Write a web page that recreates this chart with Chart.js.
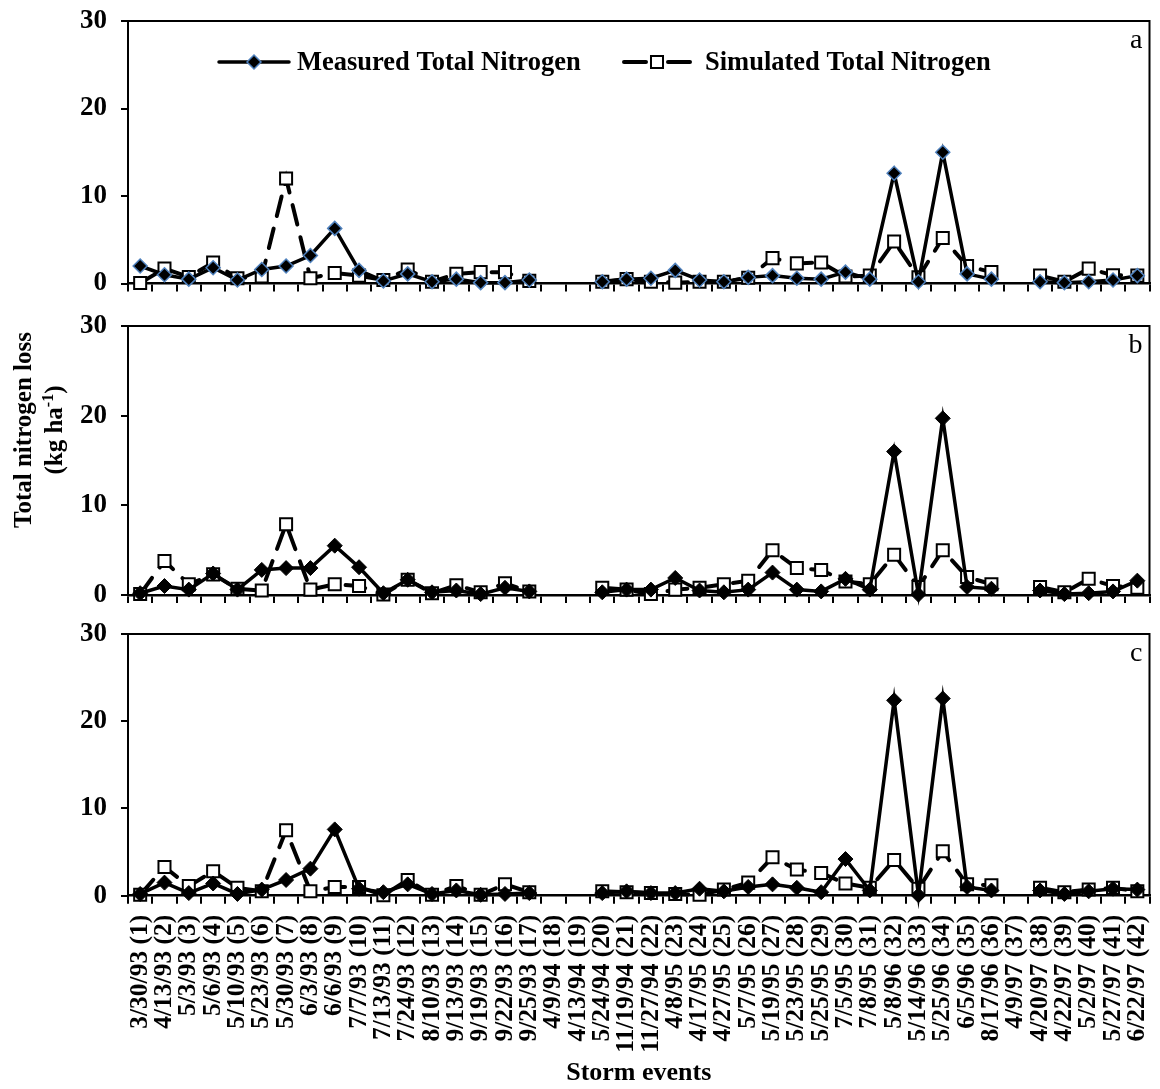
<!DOCTYPE html>
<html>
<head>
<meta charset="utf-8">
<script src="https://cdn.jsdelivr.net/npm/chart.js@4.4.1/dist/chart.umd.min.js"></script>
<style>
  body { margin: 0; background: #fff; }
  #figure { position: relative; width: 1160px; height: 1089px; overflow: hidden; }
  #figure canvas { position: absolute; left: 0; }
  #yTitle {
    position: absolute; left: -112px; top: 399px; width: 300px; height: 62px;
    font: bold 25px "Liberation Serif", "Times New Roman", serif; line-height: 31px;
    text-align: center; color: #000; transform: rotate(-90deg); transform-origin: 50% 50%;
  }
  #yTitle sup { font-size: 16px; line-height: 0; vertical-align: 9px; }
</style>
</head>
<body>
<div id="figure">
  <canvas id="panelA" width="1160" height="300" style="top:0"></canvas>
  <canvas id="panelB" width="1160" height="310" style="top:300px"></canvas>
  <canvas id="panelC" width="1160" height="479" style="top:610px"></canvas>
  <div id="yTitle">Total nitrogen loss<br>(kg ha<sup>-1</sup>)</div>
</div>
<script>
// storm event dates, numbered 1..42 on the axis
const eventDates = [
  '3/30/93', '4/13/93', '5/3/93', '5/6/93', '5/10/93', '5/23/93', '5/30/93', '6/3/93', '6/6/93',
  '7/7/93', '7/13/93', '7/24/93', '8/10/93', '9/13/93', '9/19/93', '9/22/93', '9/25/93',
  '4/9/94', '4/13/94', '5/24/94', '11/19/94', '11/27/94', '4/8/95', '4/17/95', '4/27/95',
  '5/7/95', '5/19/95', '5/23/95', '5/25/95', '7/5/95', '7/8/95', '5/8/96', '5/14/96',
  '5/25/96', '6/5/96', '8/17/96', '4/9/97', '4/20/97', '4/22/97', '5/2/97', '5/27/97', '6/22/97'
];

// total N loss, kg/ha (null = no runoff sample)
const measuredA = [2.0, 1.0, 0.5, 1.8, 0.4, 1.6, 2.0, 3.2, 6.3, 1.5, 0.3, 1.1, 0.2, 0.5, 0.1, 0.1, 0.4,
  null, null, 0.2, 0.5, 0.6, 1.5, 0.4, 0.2, 0.7, 0.9, 0.6, 0.5, 1.3, 0.5, 12.6, 0.2, 15.0, 1.1, 0.5,
  null, 0.2, 0.1, 0.2, 0.4, 0.9];
const simulatedA = [0.05, 1.7, 0.75, 2.4, 0.6, 0.8, 12.0, 0.6, 1.2, 0.9, 0.4, 1.6, 0.2, 1.1, 1.3, 1.3, 0.3,
  null, null, 0.2, 0.5, 0.2, 0.1, 0.2, 0.2, 0.65, 2.9, 2.3, 2.4, 0.8, 0.9, 4.8, 0.7, 5.2, 2.0, 1.3,
  null, 0.9, 0.2, 1.7, 0.95, 0.9];

const measuredB = [0.2, 1.0, 0.6, 2.4, 0.6, 2.8, 3.0, 3.0, 5.5, 3.1, 0.2, 1.7, 0.3, 0.5, 0.1, 0.8, 0.4,
  null, null, 0.3, 0.6, 0.6, 1.9, 0.5, 0.3, 0.6, 2.5, 0.6, 0.4, 1.8, 0.6, 16.0, 0.05, 19.7, 0.9, 0.7,
  null, 0.5, 0.1, 0.2, 0.4, 1.6];
const simulatedB = [0.1, 3.8, 1.2, 2.3, 0.7, 0.5, 7.9, 0.6, 1.2, 1.0, 0.05, 1.7, 0.2, 1.1, 0.3, 1.3, 0.4,
  null, null, 0.8, 0.6, 0.1, 0.6, 0.8, 1.2, 1.6, 5.0, 3.0, 2.8, 1.5, 1.2, 4.5, 0.9, 5.0, 2.0, 1.2,
  null, 0.9, 0.3, 1.8, 1.0, 0.8];

const measuredC = [0.2, 1.5, 0.3, 1.4, 0.2, 0.7, 1.8, 3.1, 7.6, 0.8, 0.4, 1.3, 0.2, 0.6, 0.1, 0.2, 0.3,
  null, null, 0.3, 0.5, 0.3, 0.3, 0.8, 0.5, 1.0, 1.3, 0.9, 0.4, 4.2, 0.6, 22.4, 0.05, 22.6, 1.0, 0.6,
  null, 0.6, 0.2, 0.5, 0.8, 0.7];
const simulatedC = [0.1, 3.3, 1.1, 2.8, 0.9, 0.5, 7.5, 0.5, 1.0, 1.0, 0.05, 1.8, 0.1, 1.1, 0.1, 1.3, 0.4,
  null, null, 0.5, 0.4, 0.3, 0.2, 0.1, 0.7, 1.5, 4.4, 3.0, 2.6, 1.4, 0.9, 4.1, 0.8, 5.1, 1.3, 1.2,
  null, 0.9, 0.4, 0.7, 0.9, 0.5];

const yTickValues = [0, 10, 20, 30];
const seriesNames = ['Measured Total Nitrogen', 'Simulated Total Nitrogen'];

const eventLabels = eventDates.map((d, i) => d + ' (' + (i + 1) + ')');

const SERIF = '"Liberation Serif", "Times New Roman", serif';
Chart.defaults.font.family = SERIF;
Chart.defaults.color = '#000';

// closes the box on top and right, and writes the panel letter
const panelFrame = {
  id: 'panelFrame',
  afterDraw(chart, args, opts) {
    const { ctx, chartArea: a } = chart;
    ctx.save();
    ctx.strokeStyle = '#000';
    ctx.lineWidth = 2;
    ctx.beginPath();
    ctx.moveTo(a.left, a.top);
    ctx.lineTo(a.right, a.top);
    ctx.lineTo(a.right, a.bottom);
    ctx.stroke();
    ctx.font = '28px ' + SERIF;
    ctx.fillStyle = '#000';
    ctx.textAlign = 'right';
    ctx.textBaseline = 'alphabetic';
    ctx.fillText(opts.letter, a.right - 7, a.top + 27);
    ctx.restore();
  }
};

// legend drawn inside the plot area of the top panel
const insideLegend = {
  id: 'insideLegend',
  afterDraw(chart, args, opts) {
    if (!opts.items) return;
    const ctx = chart.ctx;
    chart.data.datasets.forEach((ds, i) => {
      const it = opts.items[i];
      const y = opts.y;
      const cx = it.x + it.w / 2;
      ctx.save();
      ctx.strokeStyle = ds.borderColor;
      ctx.lineWidth = ds.borderWidth;
      ctx.lineCap = 'round';
      ctx.beginPath();
      if (ds.borderDash) {
        ctx.moveTo(it.x + 2, y); ctx.lineTo(cx - 11, y);
        ctx.moveTo(cx + 11, y); ctx.lineTo(it.x + it.w - 2, y);
      } else {
        ctx.moveTo(it.x, y); ctx.lineTo(it.x + it.w, y);
      }
      ctx.stroke();
      ctx.setLineDash([]);
      ctx.fillStyle = ds.pointBackgroundColor;
      ctx.strokeStyle = ds.pointBorderColor;
      ctx.lineWidth = ds.pointBorderWidth;
      Chart.helpers.drawPoint(ctx, {
        pointStyle: ds.pointStyle, rotation: 0,
        radius: ds.pointRadius, borderWidth: ds.pointBorderWidth
      }, cx, y);
      ctx.font = 'bold 26.5px ' + SERIF;
      ctx.fillStyle = '#000';
      ctx.textAlign = 'left';
      ctx.textBaseline = 'middle';
      ctx.fillText(ds.label, it.textX, y + 1);
      ctx.restore();
    });
  }
};

function buildPanel(id, cfg) {
  const canvas = document.getElementById(id);
  const H = canvas.height;
  return new Chart(canvas, {
    type: 'line',
    data: {
      labels: eventLabels,
      datasets: [{
        label: seriesNames[0],
        data: cfg.measured,
        borderColor: '#000',
        borderWidth: 3.5,
        tension: 0,
        pointStyle: 'rectRot',
        pointRadius: cfg.diamondRadius,
        pointBackgroundColor: '#000',
        pointBorderColor: cfg.diamondEdge,
        pointBorderWidth: cfg.diamondEdgeWidth,
        clip: false
      }, {
        label: seriesNames[1],
        data: cfg.simulated,
        borderColor: '#000',
        borderWidth: 4,
        borderDash: [20, 13],
        borderCapStyle: 'round',
        tension: 0,
        pointStyle: 'rect',
        pointRadius: 8.5,
        pointBackgroundColor: '#fff',
        pointBorderColor: '#000',
        pointBorderWidth: 2,
        clip: false
      }]
    },
    options: {
      responsive: false,
      animation: false,
      events: [],
      layout: { padding: { top: cfg.top, right: 7, left: 0, bottom: 0 } },
      plugins: {
        legend: { display: false },
        tooltip: { enabled: false },
        panelFrame: { letter: cfg.letter },
        insideLegend: cfg.legend || {}
      },
      scales: {
        x: {
          offset: true,
          grid: { offset: true, drawOnChartArea: false, drawTicks: true, tickLength: 8, color: '#000', lineWidth: 2 },
          border: { display: true, color: '#000', width: 2.5 },
          ticks: {
            display: !!cfg.showLabels,
            autoSkip: false,
            minRotation: 90,
            maxRotation: 90,
            padding: 11,
            color: '#000',
            font: { size: 25.5, weight: 'bold' }
          },
          title: {
            display: !!cfg.showLabels,
            text: 'Storm events',
            padding: { top: 0, bottom: 0 },
            color: '#000',
            font: { size: 26, weight: 'bold' }
          },
          afterFit: s => {
            s.height = H - cfg.bottom;
            s.paddingLeft = 0;
            s.paddingRight = 0;
          }
        },
        y: {
          min: 0,
          max: 30,
          afterBuildTicks: s => { s.ticks = yTickValues.map(v => ({ value: v })); },
          grid: { drawOnChartArea: false, drawTicks: true, tickLength: 7, color: '#000', lineWidth: 2 },
          border: { display: true, color: '#000', width: 2 },
          ticks: { padding: 14, color: '#000', font: { size: 27, weight: 'bold' } },
          afterFit: s => {
            s.width = 128;
            s.paddingTop = 0;
            s.paddingBottom = 0;
          }
        }
      }
    },
    plugins: [panelFrame, insideLegend]
  });
}

buildPanel('panelA', {
  measured: measuredA, simulated: simulatedA, letter: 'a',
  top: 21, bottom: 283.5,
  diamondRadius: 7, diamondEdge: '#4f81bd', diamondEdgeWidth: 1.5,
  legend: { y: 62, items: [{ x: 219, w: 70, textX: 297 }, { x: 622, w: 70, textX: 705 }] }
});

buildPanel('panelB', {
  measured: measuredB, simulated: simulatedB, letter: 'b',
  top: 26, bottom: 295,
  diamondRadius: 7.5, diamondEdge: '#000', diamondEdgeWidth: 1
});

buildPanel('panelC', {
  measured: measuredC, simulated: simulatedC, letter: 'c',
  top: 24, bottom: 285.7,
  diamondRadius: 7.5, diamondEdge: '#000', diamondEdgeWidth: 1,
  showLabels: true
});
</script>
</body>
</html>
